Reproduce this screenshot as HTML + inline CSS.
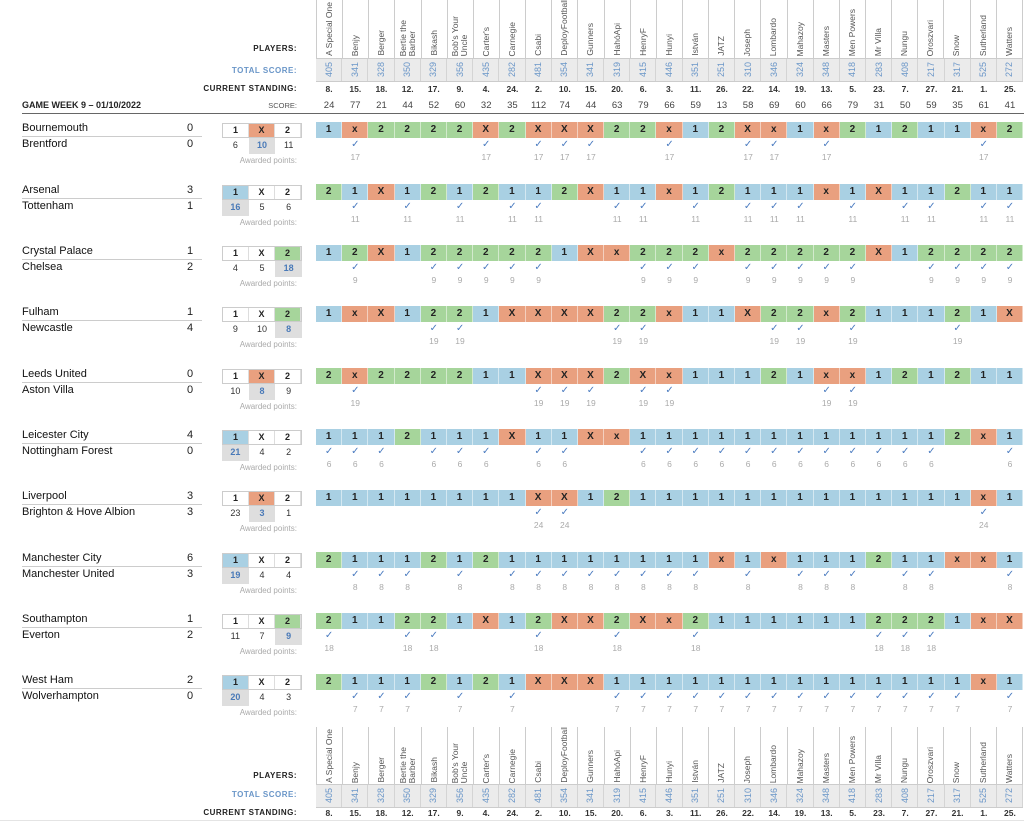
<!DOCTYPE html>
<html><head><meta charset="utf-8"><style>
*{margin:0;padding:0;box-sizing:border-box}
body{width:1024px;height:823px;background:#fff;font-family:"Liberation Sans",sans-serif;position:relative;overflow:hidden;color:#222}
.a{position:absolute}
.row{position:absolute;left:316px;width:707px;display:flex}
.row>*{flex:1;text-align:center}
.names>div{height:58px;border-right:1px solid #ccc;display:flex;justify-content:center;align-items:flex-end;padding-bottom:2px;overflow:hidden}
.names>div:first-child{border-left:1px solid #ccc}
.names span{writing-mode:vertical-rl;transform:rotate(180deg);font-size:8.5px;line-height:9px;color:#555;white-space:pre;text-align:left}
.tot{background:#ebebeb;height:24px;border-top:1px solid #ccc;border-bottom:1px solid #ccc}
.tot>div{border-right:1px solid #d4d4d4;display:flex;justify-content:center;align-items:center}
.tot span{writing-mode:vertical-rl;transform:rotate(180deg);font-size:9px;color:#6a96c8}
.st>div{font-size:8.5px;font-weight:bold;color:#333}
.sc>div{font-size:9.5px;color:#444}
.lbl{position:absolute;right:727px;font-size:8px;font-weight:bold;letter-spacing:.5px;text-align:right;white-space:nowrap}
.p{height:16px}
.p>i{font-style:normal;font-weight:bold;font-size:10px;line-height:16px;border-right:1px solid rgba(255,255,255,.5)}
.b{background:#a9d0e3}.o{background:#e9a07f}.g{background:#a6d59b}
.c>u{text-decoration:none;font-size:10px;line-height:12px;color:#4c7cc0}
.c>u b{display:block;font-weight:normal;color:#aaa;font-size:8.5px;line-height:12px}
.m{position:absolute;left:0;width:316px;height:50px}
.t1,.t2{position:absolute;left:22px;font-size:11px;color:#111}
.t1{top:0}.t2{top:16px}
.ln{position:absolute;left:22px;top:14px;width:180px;border-top:1px solid #ccc}
.s1,.s2{position:absolute;left:187px;font-size:11px}
.s1{top:0}.s2{top:16px}
.bx{position:absolute;left:222px;top:1px;width:80px;height:15px;border:1px solid #ccc;display:flex}
.bx>i{flex:1;font-style:normal;font-weight:bold;font-size:9px;text-align:center;line-height:13px;border-right:1px solid #ddd}
.cn{position:absolute;left:222px;top:16px;width:80px;height:16px;display:flex}
.cn>i{flex:1;font-style:normal;font-size:9px;text-align:center;line-height:15px;color:#333}
.cn>i.h{background:#dedede;color:#4a7ab8;font-weight:bold}
.aw{position:absolute;right:19px;top:34px;font-size:8px;color:#aaa}
</style></head><body>

<div class="row names" style="top:0">
<div><span>A Special One</span></div><div><span>Benjy</span></div><div><span>Berger</span></div><div><span>Bertie the
Barber</span></div><div><span>Bikash</span></div><div><span>Bob's Your
Uncle</span></div><div><span>Carter's</span></div><div><span>Carnegie</span></div><div><span>Csabi</span></div><div><span>DeployFootball</span></div><div><span>Gunners</span></div><div><span>HahóApi</span></div><div><span>HenryF</span></div><div><span>Hunyi</span></div><div><span>István</span></div><div><span>JATZ</span></div><div><span>Joseph</span></div><div><span>Lombardo</span></div><div><span>Mahazoy</span></div><div><span>Masters</span></div><div><span>Men Powers</span></div><div><span>Mr Villa</span></div><div><span>Nungu</span></div><div><span>Oroszvari</span></div><div><span>Snow</span></div><div><span>Sutherland</span></div><div><span>Watters</span></div>
</div>
<div class="row tot" style="top:58px">
<div><span>405</span></div><div><span>341</span></div><div><span>328</span></div><div><span>350</span></div><div><span>329</span></div><div><span>356</span></div><div><span>435</span></div><div><span>282</span></div><div><span>481</span></div><div><span>354</span></div><div><span>341</span></div><div><span>319</span></div><div><span>415</span></div><div><span>446</span></div><div><span>351</span></div><div><span>251</span></div><div><span>310</span></div><div><span>346</span></div><div><span>324</span></div><div><span>348</span></div><div><span>418</span></div><div><span>283</span></div><div><span>408</span></div><div><span>217</span></div><div><span>317</span></div><div><span>525</span></div><div><span>272</span></div>
</div>
<div class="row st" style="top:84px"><div>8.</div><div>15.</div><div>18.</div><div>12.</div><div>17.</div><div>9.</div><div>4.</div><div>24.</div><div>2.</div><div>10.</div><div>15.</div><div>20.</div><div>6.</div><div>3.</div><div>11.</div><div>26.</div><div>22.</div><div>14.</div><div>19.</div><div>13.</div><div>5.</div><div>23.</div><div>7.</div><div>27.</div><div>21.</div><div>1.</div><div>25.</div></div>
<div class="row sc" style="top:100px"><div>24</div><div>77</div><div>21</div><div>44</div><div>52</div><div>60</div><div>32</div><div>35</div><div>112</div><div>74</div><div>44</div><div>63</div><div>79</div><div>66</div><div>59</div><div>13</div><div>58</div><div>69</div><div>60</div><div>66</div><div>79</div><div>31</div><div>50</div><div>59</div><div>35</div><div>61</div><div>41</div></div>
<div class="lbl" style="top:44px">PLAYERS:</div>
<div class="lbl" style="top:66px;color:#6a96c8">TOTAL SCORE:</div>
<div class="lbl" style="top:84px">CURRENT STANDING:</div>
<div class="a" style="left:22px;top:100px;font-size:9px;font-weight:bold">GAME WEEK 9 – 01/10/2022</div>
<div class="lbl" style="top:101px;font-weight:normal;color:#555;letter-spacing:0;font-size:7.5px">SCORE:</div>
<div class="a" style="left:22px;top:113px;width:1002px;border-top:1px solid #666"></div>

<div class="m" style="top:122px"><div class="t1">Bournemouth</div><div class="ln"></div><div class="t2">Brentford</div><div class="s1">0</div><div class="s2">0</div>
<div class="bx"><i>1</i><i class="o">X</i><i>2</i></div><div class="cn"><i>6</i><i class="h">10</i><i>11</i></div><div class="aw">Awarded points:</div></div>
<div class="row p" style="top:122px"><i class="b">1</i><i class="o">x</i><i class="g">2</i><i class="g">2</i><i class="g">2</i><i class="g">2</i><i class="o">X</i><i class="g">2</i><i class="o">X</i><i class="o">X</i><i class="o">X</i><i class="g">2</i><i class="g">2</i><i class="o">x</i><i class="b">1</i><i class="g">2</i><i class="o">X</i><i class="o">x</i><i class="b">1</i><i class="o">x</i><i class="g">2</i><i class="b">1</i><i class="g">2</i><i class="b">1</i><i class="b">1</i><i class="o">x</i><i class="g">2</i></div>
<div class="row c" style="top:139px"><u></u><u>✓<b>17</b></u><u></u><u></u><u></u><u></u><u>✓<b>17</b></u><u></u><u>✓<b>17</b></u><u>✓<b>17</b></u><u>✓<b>17</b></u><u></u><u></u><u>✓<b>17</b></u><u></u><u></u><u>✓<b>17</b></u><u>✓<b>17</b></u><u></u><u>✓<b>17</b></u><u></u><u></u><u></u><u></u><u></u><u>✓<b>17</b></u><u></u></div>

<div class="m" style="top:184px"><div class="t1">Arsenal</div><div class="ln"></div><div class="t2">Tottenham</div><div class="s1">3</div><div class="s2">1</div>
<div class="bx"><i class="b">1</i><i>X</i><i>2</i></div><div class="cn"><i class="h">16</i><i>5</i><i>6</i></div><div class="aw">Awarded points:</div></div>
<div class="row p" style="top:184px"><i class="g">2</i><i class="b">1</i><i class="o">X</i><i class="b">1</i><i class="g">2</i><i class="b">1</i><i class="g">2</i><i class="b">1</i><i class="b">1</i><i class="g">2</i><i class="o">X</i><i class="b">1</i><i class="b">1</i><i class="o">x</i><i class="b">1</i><i class="g">2</i><i class="b">1</i><i class="b">1</i><i class="b">1</i><i class="o">x</i><i class="b">1</i><i class="o">X</i><i class="b">1</i><i class="b">1</i><i class="g">2</i><i class="b">1</i><i class="b">1</i></div>
<div class="row c" style="top:201px"><u></u><u>✓<b>11</b></u><u></u><u>✓<b>11</b></u><u></u><u>✓<b>11</b></u><u></u><u>✓<b>11</b></u><u>✓<b>11</b></u><u></u><u></u><u>✓<b>11</b></u><u>✓<b>11</b></u><u></u><u>✓<b>11</b></u><u></u><u>✓<b>11</b></u><u>✓<b>11</b></u><u>✓<b>11</b></u><u></u><u>✓<b>11</b></u><u></u><u>✓<b>11</b></u><u>✓<b>11</b></u><u></u><u>✓<b>11</b></u><u>✓<b>11</b></u></div>

<div class="m" style="top:245px"><div class="t1">Crystal Palace</div><div class="ln"></div><div class="t2">Chelsea</div><div class="s1">1</div><div class="s2">2</div>
<div class="bx"><i>1</i><i>X</i><i class="g">2</i></div><div class="cn"><i>4</i><i>5</i><i class="h">18</i></div><div class="aw">Awarded points:</div></div>
<div class="row p" style="top:245px"><i class="b">1</i><i class="g">2</i><i class="o">X</i><i class="b">1</i><i class="g">2</i><i class="g">2</i><i class="g">2</i><i class="g">2</i><i class="g">2</i><i class="b">1</i><i class="o">X</i><i class="o">x</i><i class="g">2</i><i class="g">2</i><i class="g">2</i><i class="o">x</i><i class="g">2</i><i class="g">2</i><i class="g">2</i><i class="g">2</i><i class="g">2</i><i class="o">X</i><i class="b">1</i><i class="g">2</i><i class="g">2</i><i class="g">2</i><i class="g">2</i></div>
<div class="row c" style="top:262px"><u></u><u>✓<b>9</b></u><u></u><u></u><u>✓<b>9</b></u><u>✓<b>9</b></u><u>✓<b>9</b></u><u>✓<b>9</b></u><u>✓<b>9</b></u><u></u><u></u><u></u><u>✓<b>9</b></u><u>✓<b>9</b></u><u>✓<b>9</b></u><u></u><u>✓<b>9</b></u><u>✓<b>9</b></u><u>✓<b>9</b></u><u>✓<b>9</b></u><u>✓<b>9</b></u><u></u><u></u><u>✓<b>9</b></u><u>✓<b>9</b></u><u>✓<b>9</b></u><u>✓<b>9</b></u></div>

<div class="m" style="top:306px"><div class="t1">Fulham</div><div class="ln"></div><div class="t2">Newcastle</div><div class="s1">1</div><div class="s2">4</div>
<div class="bx"><i>1</i><i>X</i><i class="g">2</i></div><div class="cn"><i>9</i><i>10</i><i class="h">8</i></div><div class="aw">Awarded points:</div></div>
<div class="row p" style="top:306px"><i class="b">1</i><i class="o">x</i><i class="o">X</i><i class="b">1</i><i class="g">2</i><i class="g">2</i><i class="b">1</i><i class="o">X</i><i class="o">X</i><i class="o">X</i><i class="o">X</i><i class="g">2</i><i class="g">2</i><i class="o">x</i><i class="b">1</i><i class="b">1</i><i class="o">X</i><i class="g">2</i><i class="g">2</i><i class="o">x</i><i class="g">2</i><i class="b">1</i><i class="b">1</i><i class="b">1</i><i class="g">2</i><i class="b">1</i><i class="o">X</i></div>
<div class="row c" style="top:323px"><u></u><u></u><u></u><u></u><u>✓<b>19</b></u><u>✓<b>19</b></u><u></u><u></u><u></u><u></u><u></u><u>✓<b>19</b></u><u>✓<b>19</b></u><u></u><u></u><u></u><u></u><u>✓<b>19</b></u><u>✓<b>19</b></u><u></u><u>✓<b>19</b></u><u></u><u></u><u></u><u>✓<b>19</b></u><u></u><u></u></div>

<div class="m" style="top:368px"><div class="t1">Leeds United</div><div class="ln"></div><div class="t2">Aston Villa</div><div class="s1">0</div><div class="s2">0</div>
<div class="bx"><i>1</i><i class="o">X</i><i>2</i></div><div class="cn"><i>10</i><i class="h">8</i><i>9</i></div><div class="aw">Awarded points:</div></div>
<div class="row p" style="top:368px"><i class="g">2</i><i class="o">x</i><i class="g">2</i><i class="g">2</i><i class="g">2</i><i class="g">2</i><i class="b">1</i><i class="b">1</i><i class="o">X</i><i class="o">X</i><i class="o">X</i><i class="g">2</i><i class="o">X</i><i class="o">x</i><i class="b">1</i><i class="b">1</i><i class="b">1</i><i class="g">2</i><i class="b">1</i><i class="o">x</i><i class="o">x</i><i class="b">1</i><i class="g">2</i><i class="b">1</i><i class="g">2</i><i class="b">1</i><i class="b">1</i></div>
<div class="row c" style="top:385px"><u></u><u>✓<b>19</b></u><u></u><u></u><u></u><u></u><u></u><u></u><u>✓<b>19</b></u><u>✓<b>19</b></u><u>✓<b>19</b></u><u></u><u>✓<b>19</b></u><u>✓<b>19</b></u><u></u><u></u><u></u><u></u><u></u><u>✓<b>19</b></u><u>✓<b>19</b></u><u></u><u></u><u></u><u></u><u></u><u></u></div>

<div class="m" style="top:429px"><div class="t1">Leicester City</div><div class="ln"></div><div class="t2">Nottingham Forest</div><div class="s1">4</div><div class="s2">0</div>
<div class="bx"><i class="b">1</i><i>X</i><i>2</i></div><div class="cn"><i class="h">21</i><i>4</i><i>2</i></div><div class="aw">Awarded points:</div></div>
<div class="row p" style="top:429px"><i class="b">1</i><i class="b">1</i><i class="b">1</i><i class="g">2</i><i class="b">1</i><i class="b">1</i><i class="b">1</i><i class="o">X</i><i class="b">1</i><i class="b">1</i><i class="o">X</i><i class="o">x</i><i class="b">1</i><i class="b">1</i><i class="b">1</i><i class="b">1</i><i class="b">1</i><i class="b">1</i><i class="b">1</i><i class="b">1</i><i class="b">1</i><i class="b">1</i><i class="b">1</i><i class="b">1</i><i class="g">2</i><i class="o">x</i><i class="b">1</i></div>
<div class="row c" style="top:446px"><u>✓<b>6</b></u><u>✓<b>6</b></u><u>✓<b>6</b></u><u></u><u>✓<b>6</b></u><u>✓<b>6</b></u><u>✓<b>6</b></u><u></u><u>✓<b>6</b></u><u>✓<b>6</b></u><u></u><u></u><u>✓<b>6</b></u><u>✓<b>6</b></u><u>✓<b>6</b></u><u>✓<b>6</b></u><u>✓<b>6</b></u><u>✓<b>6</b></u><u>✓<b>6</b></u><u>✓<b>6</b></u><u>✓<b>6</b></u><u>✓<b>6</b></u><u>✓<b>6</b></u><u>✓<b>6</b></u><u></u><u></u><u>✓<b>6</b></u></div>

<div class="m" style="top:490px"><div class="t1">Liverpool</div><div class="ln"></div><div class="t2">Brighton &amp; Hove Albion</div><div class="s1">3</div><div class="s2">3</div>
<div class="bx"><i>1</i><i class="o">X</i><i>2</i></div><div class="cn"><i>23</i><i class="h">3</i><i>1</i></div><div class="aw">Awarded points:</div></div>
<div class="row p" style="top:490px"><i class="b">1</i><i class="b">1</i><i class="b">1</i><i class="b">1</i><i class="b">1</i><i class="b">1</i><i class="b">1</i><i class="b">1</i><i class="o">X</i><i class="o">X</i><i class="b">1</i><i class="g">2</i><i class="b">1</i><i class="b">1</i><i class="b">1</i><i class="b">1</i><i class="b">1</i><i class="b">1</i><i class="b">1</i><i class="b">1</i><i class="b">1</i><i class="b">1</i><i class="b">1</i><i class="b">1</i><i class="b">1</i><i class="o">x</i><i class="b">1</i></div>
<div class="row c" style="top:507px"><u></u><u></u><u></u><u></u><u></u><u></u><u></u><u></u><u>✓<b>24</b></u><u>✓<b>24</b></u><u></u><u></u><u></u><u></u><u></u><u></u><u></u><u></u><u></u><u></u><u></u><u></u><u></u><u></u><u></u><u>✓<b>24</b></u><u></u></div>

<div class="m" style="top:552px"><div class="t1">Manchester City</div><div class="ln"></div><div class="t2">Manchester United</div><div class="s1">6</div><div class="s2">3</div>
<div class="bx"><i class="b">1</i><i>X</i><i>2</i></div><div class="cn"><i class="h">19</i><i>4</i><i>4</i></div><div class="aw">Awarded points:</div></div>
<div class="row p" style="top:552px"><i class="g">2</i><i class="b">1</i><i class="b">1</i><i class="b">1</i><i class="g">2</i><i class="b">1</i><i class="g">2</i><i class="b">1</i><i class="b">1</i><i class="b">1</i><i class="b">1</i><i class="b">1</i><i class="b">1</i><i class="b">1</i><i class="b">1</i><i class="o">x</i><i class="b">1</i><i class="o">x</i><i class="b">1</i><i class="b">1</i><i class="b">1</i><i class="g">2</i><i class="b">1</i><i class="b">1</i><i class="o">x</i><i class="o">x</i><i class="b">1</i></div>
<div class="row c" style="top:569px"><u></u><u>✓<b>8</b></u><u>✓<b>8</b></u><u>✓<b>8</b></u><u></u><u>✓<b>8</b></u><u></u><u>✓<b>8</b></u><u>✓<b>8</b></u><u>✓<b>8</b></u><u>✓<b>8</b></u><u>✓<b>8</b></u><u>✓<b>8</b></u><u>✓<b>8</b></u><u>✓<b>8</b></u><u></u><u>✓<b>8</b></u><u></u><u>✓<b>8</b></u><u>✓<b>8</b></u><u>✓<b>8</b></u><u></u><u>✓<b>8</b></u><u>✓<b>8</b></u><u></u><u></u><u>✓<b>8</b></u></div>

<div class="m" style="top:613px"><div class="t1">Southampton</div><div class="ln"></div><div class="t2">Everton</div><div class="s1">1</div><div class="s2">2</div>
<div class="bx"><i>1</i><i>X</i><i class="g">2</i></div><div class="cn"><i>11</i><i>7</i><i class="h">9</i></div><div class="aw">Awarded points:</div></div>
<div class="row p" style="top:613px"><i class="g">2</i><i class="b">1</i><i class="b">1</i><i class="g">2</i><i class="g">2</i><i class="b">1</i><i class="o">X</i><i class="b">1</i><i class="g">2</i><i class="o">X</i><i class="o">X</i><i class="g">2</i><i class="o">X</i><i class="o">x</i><i class="g">2</i><i class="b">1</i><i class="b">1</i><i class="b">1</i><i class="b">1</i><i class="b">1</i><i class="b">1</i><i class="g">2</i><i class="g">2</i><i class="g">2</i><i class="b">1</i><i class="o">x</i><i class="o">X</i></div>
<div class="row c" style="top:630px"><u>✓<b>18</b></u><u></u><u></u><u>✓<b>18</b></u><u>✓<b>18</b></u><u></u><u></u><u></u><u>✓<b>18</b></u><u></u><u></u><u>✓<b>18</b></u><u></u><u></u><u>✓<b>18</b></u><u></u><u></u><u></u><u></u><u></u><u></u><u>✓<b>18</b></u><u>✓<b>18</b></u><u>✓<b>18</b></u><u></u><u></u><u></u></div>

<div class="m" style="top:674px"><div class="t1">West Ham</div><div class="ln"></div><div class="t2">Wolverhampton</div><div class="s1">2</div><div class="s2">0</div>
<div class="bx"><i class="b">1</i><i>X</i><i>2</i></div><div class="cn"><i class="h">20</i><i>4</i><i>3</i></div><div class="aw">Awarded points:</div></div>
<div class="row p" style="top:674px"><i class="g">2</i><i class="b">1</i><i class="b">1</i><i class="b">1</i><i class="g">2</i><i class="b">1</i><i class="g">2</i><i class="b">1</i><i class="o">X</i><i class="o">X</i><i class="o">X</i><i class="b">1</i><i class="b">1</i><i class="b">1</i><i class="b">1</i><i class="b">1</i><i class="b">1</i><i class="b">1</i><i class="b">1</i><i class="b">1</i><i class="b">1</i><i class="b">1</i><i class="b">1</i><i class="b">1</i><i class="b">1</i><i class="o">x</i><i class="b">1</i></div>
<div class="row c" style="top:691px"><u></u><u>✓<b>7</b></u><u>✓<b>7</b></u><u>✓<b>7</b></u><u></u><u>✓<b>7</b></u><u></u><u>✓<b>7</b></u><u></u><u></u><u></u><u>✓<b>7</b></u><u>✓<b>7</b></u><u>✓<b>7</b></u><u>✓<b>7</b></u><u>✓<b>7</b></u><u>✓<b>7</b></u><u>✓<b>7</b></u><u>✓<b>7</b></u><u>✓<b>7</b></u><u>✓<b>7</b></u><u>✓<b>7</b></u><u>✓<b>7</b></u><u>✓<b>7</b></u><u>✓<b>7</b></u><u></u><u>✓<b>7</b></u></div>

<div class="row names" style="top:727px">
<div><span>A Special One</span></div><div><span>Benjy</span></div><div><span>Berger</span></div><div><span>Bertie the
Barber</span></div><div><span>Bikash</span></div><div><span>Bob's Your
Uncle</span></div><div><span>Carter's</span></div><div><span>Carnegie</span></div><div><span>Csabi</span></div><div><span>DeployFootball</span></div><div><span>Gunners</span></div><div><span>HahóApi</span></div><div><span>HenryF</span></div><div><span>Hunyi</span></div><div><span>István</span></div><div><span>JATZ</span></div><div><span>Joseph</span></div><div><span>Lombardo</span></div><div><span>Mahazoy</span></div><div><span>Masters</span></div><div><span>Men Powers</span></div><div><span>Mr Villa</span></div><div><span>Nungu</span></div><div><span>Oroszvari</span></div><div><span>Snow</span></div><div><span>Sutherland</span></div><div><span>Watters</span></div>
</div>
<div class="row tot" style="top:784px">
<div><span>405</span></div><div><span>341</span></div><div><span>328</span></div><div><span>350</span></div><div><span>329</span></div><div><span>356</span></div><div><span>435</span></div><div><span>282</span></div><div><span>481</span></div><div><span>354</span></div><div><span>341</span></div><div><span>319</span></div><div><span>415</span></div><div><span>446</span></div><div><span>351</span></div><div><span>251</span></div><div><span>310</span></div><div><span>346</span></div><div><span>324</span></div><div><span>348</span></div><div><span>418</span></div><div><span>283</span></div><div><span>408</span></div><div><span>217</span></div><div><span>317</span></div><div><span>525</span></div><div><span>272</span></div>
</div>
<div class="row st" style="top:808px"><div>8.</div><div>15.</div><div>18.</div><div>12.</div><div>17.</div><div>9.</div><div>4.</div><div>24.</div><div>2.</div><div>10.</div><div>15.</div><div>20.</div><div>6.</div><div>3.</div><div>11.</div><div>26.</div><div>22.</div><div>14.</div><div>19.</div><div>13.</div><div>5.</div><div>23.</div><div>7.</div><div>27.</div><div>21.</div><div>1.</div><div>25.</div></div>
<div class="lbl" style="top:771px">PLAYERS:</div>
<div class="lbl" style="top:790px;color:#6a96c8">TOTAL SCORE:</div>
<div class="lbl" style="top:808px">CURRENT STANDING:</div>
<div class="a" style="left:0;top:820px;width:1024px;border-top:1px solid #e4e4e4"></div>
</body></html>
